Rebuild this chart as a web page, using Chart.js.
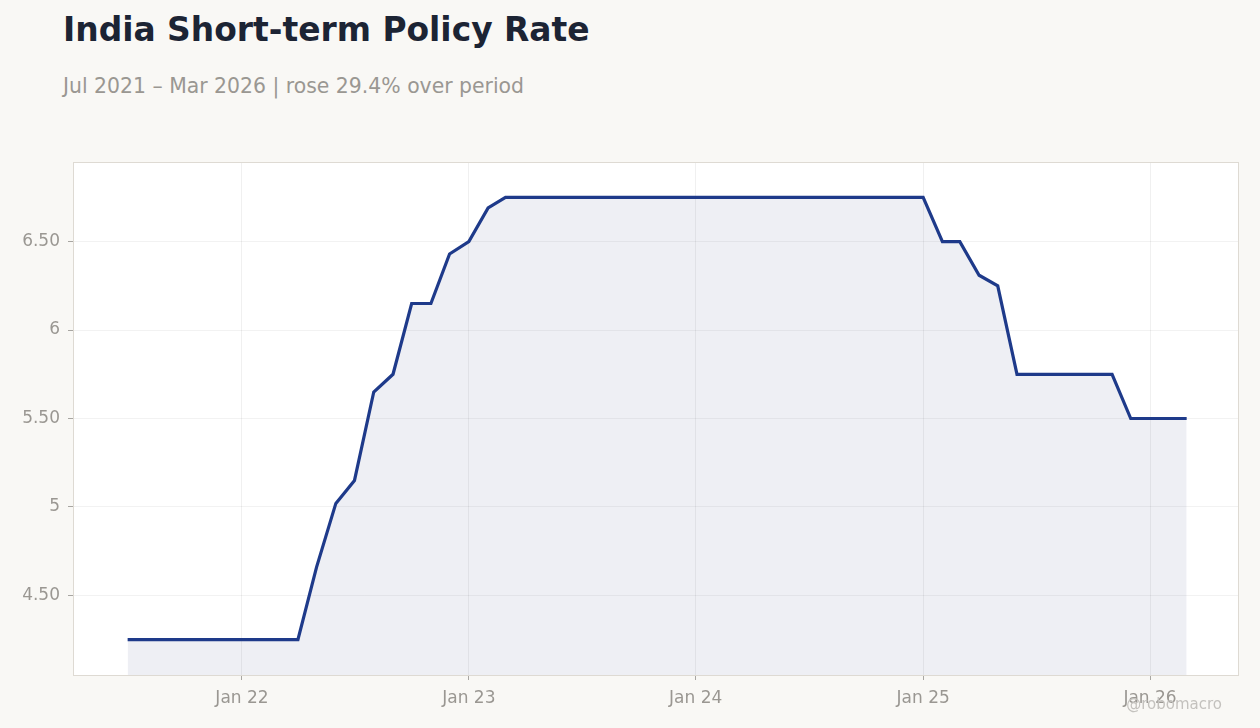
<!DOCTYPE html>
<html>
<head>
<meta charset="utf-8">
<script src="https://cdn.jsdelivr.net/npm/chart.js@4.4.1/dist/chart.umd.min.js"></script>
<style>
  html, body { margin: 0; padding: 0; background: #f9f8f5; }
  body { width: 1260px; height: 728px; position: relative; overflow: hidden; font-family: "DejaVu Sans", sans-serif; }
  #title { position: absolute; left: 63px; top: 10px; font-size: 32.9px; font-weight: bold; color: #1c2434; white-space: nowrap; }
  #subtitle { position: absolute; left: 63px; top: 74px; font-size: 20.4px; color: #9a9792; white-space: nowrap; }
  #wrap { position: absolute; left: 0; top: 0; width: 1260px; height: 728px; }
  #wm { position: absolute; right: 38px; top: 695px; font-size: 15px; color: #c4c2be; white-space: nowrap; }
</style>
</head>
<body>
<div id="title">India Short-term Policy Rate</div>
<div id="subtitle">Jul 2021 – Mar 2026 | rose 29.4% over period</div>
<div id="wrap"><canvas id="c" width="1260" height="728"></canvas></div>
<div id="wm">@robomacro</div>
<script>
// Months from Jul 2021 to Mar 2026
const months = [
  "2021-07","2021-08","2021-09","2021-10","2021-11","2021-12",
  "2022-01","2022-02","2022-03","2022-04","2022-05","2022-06","2022-07","2022-08","2022-09","2022-10","2022-11","2022-12",
  "2023-01","2023-02","2023-03","2023-04","2023-05","2023-06","2023-07","2023-08","2023-09","2023-10","2023-11","2023-12",
  "2024-01","2024-02","2024-03","2024-04","2024-05","2024-06","2024-07","2024-08","2024-09","2024-10","2024-11","2024-12",
  "2025-01","2025-02","2025-03","2025-04","2025-05","2025-06","2025-07","2025-08","2025-09","2025-10","2025-11","2025-12",
  "2026-01","2026-02","2026-03"
];
const rates = [
  4.25,4.25,4.25,4.25,4.25,4.25,
  4.25,4.25,4.25,4.25,4.66,5.02,5.15,5.65,5.75,6.15,6.15,6.43,
  6.50,6.69,6.75,6.75,6.75,6.75,6.75,6.75,6.75,6.75,6.75,6.75,
  6.75,6.75,6.75,6.75,6.75,6.75,6.75,6.75,6.75,6.75,6.75,6.75,
  6.75,6.50,6.50,6.31,6.25,5.75,5.75,5.75,5.75,5.75,5.75,5.50,
  5.50,5.50,5.50
];
const xTickMonths = ["2022-01","2023-01","2024-01","2025-01","2026-01"];
const xTickLabels = ["Jan 22","Jan 23","Jan 24","Jan 25","Jan 26"];
const yTicks = [4.5, 5, 5.5, 6, 6.5];

// convert "YYYY-MM" to days since 2022-01-01 (time-like linear axis)
const DAY = 86400000, EPOCH = Date.UTC(2022, 0, 1);
const toDay = s => { const [y, m] = s.split('-').map(Number); return (Date.UTC(y, m - 1, 1) - EPOCH) / DAY; };

const points = months.map((m, i) => ({ x: toDay(m), y: rates[i] }));
const xTickVals = xTickMonths.map(toDay);

const frame = {
  id: 'frame',
  beforeDraw(chart) {
    const a = chart.chartArea, ctx = chart.ctx;
    ctx.save();
    ctx.fillStyle = '#ffffff';
    ctx.fillRect(a.left, a.top, a.right - a.left, a.bottom - a.top);
    ctx.restore();
  },
  afterDraw(chart) {
    const a = chart.chartArea, ctx = chart.ctx;
    ctx.save();
    ctx.strokeStyle = '#dedad3';
    ctx.lineWidth = 1;
    ctx.strokeRect(a.left + 0.5, a.top + 0.5, a.right - a.left - 1, a.bottom - a.top);
    ctx.restore();
  }
};

new Chart(document.getElementById('c'), {
  type: 'line',
  data: {
    datasets: [{
      data: points,
      borderColor: '#1e3a8a',
      borderWidth: 3.2,
      backgroundColor: 'rgba(40,50,110,0.08)',
      fill: 'start',
      pointRadius: 0,
      tension: 0
    }]
  },
  options: {
    responsive: false,
    animation: false,
    layout: { padding: { left: 0, right: 21, top: 162, bottom: 0 } },
    plugins: { legend: { display: false }, tooltip: { enabled: false } },
    scales: {
      x: {
        type: 'linear',
        min: -271.9,
        max: 1604.2,
        afterBuildTicks(scale) { scale.ticks = xTickVals.map(v => ({ value: v })); },
        afterFit(scale) { scale.height = 53; },
        ticks: {
          autoSkip: false,
          maxRotation: 0,
          padding: 8,
          color: '#9a9792',
          font: { family: 'DejaVu Sans', size: 17 },
          callback(v) { const k = xTickVals.indexOf(v); return k >= 0 ? xTickLabels[k] : ''; }
        },
        grid: { color: 'rgba(0,0,0,0.06)', tickColor: '#a8a6a2', tickLength: 5, drawTicks: true },
        border: { display: false }
      },
      y: {
        min: 4.05,
        max: 6.95,
        afterBuildTicks(scale) { scale.ticks = yTicks.map(v => ({ value: v })); },
        afterFit(scale) { scale.width = 73; },
        ticks: {
          padding: 8,
          color: '#9a9792',
          font: { family: 'DejaVu Sans', size: 17 },
          callback(v) { return Number.isInteger(v) ? String(v) : v.toFixed(2); }
        },
        grid: { color: 'rgba(0,0,0,0.05)', tickColor: '#a8a6a2', tickLength: 5, drawTicks: true },
        border: { display: false }
      }
    }
  },
  plugins: [frame]
});
</script>
</body>
</html>
